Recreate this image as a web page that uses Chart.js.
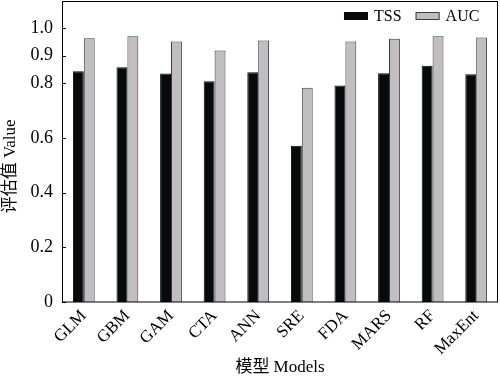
<!DOCTYPE html>
<html>
<head>
<meta charset="utf-8">
<script src="https://cdn.jsdelivr.net/npm/chart.js@4/dist/chart.umd.min.js"></script>
<style>
  html, body { margin: 0; padding: 0; background: #fff; }
  #wrap { width: 500px; height: 380px; }
</style>
</head>
<body>
<div id="wrap"><canvas id="evalChart" width="500" height="380"></canvas></div>
<script>
var models = ['GLM', 'GBM', 'GAM', 'CTA', 'ANN', 'SRE', 'FDA', 'MARS', 'RF', 'MaxEnt'];
var tssValues = [0.843, 0.858, 0.835, 0.807, 0.840, 0.571, 0.791, 0.836, 0.863, 0.832];
var aucValues = [0.964, 0.971, 0.952, 0.919, 0.956, 0.783, 0.952, 0.962, 0.971, 0.967];
var yTicks = [0, 0.2, 0.4, 0.6, 0.8, 0.9, 1.0];

var serif = '"Liberation Serif", "Times New Roman", serif';
var cjk = '"Liberation Serif", "Noto Sans CJK SC", serif';

// box round the plot, inward y ticks and the legend in the top right corner
var framePlugin = {
  id: 'frame',
  afterDraw: function (chart) {
    var ctx = chart.ctx;
    var area = chart.chartArea;
    var y = chart.scales.y;
    ctx.save();
    ctx.strokeStyle = '#000';
    ctx.lineWidth = 1;
    ctx.strokeRect(Math.round(area.left) + 0.5, Math.round(area.top) + 0.5,
      Math.round(area.right - area.left) - 1, Math.round(area.bottom - area.top) - 0.5);
    yTicks.forEach(function (v) {
      var py = Math.round(y.getPixelForValue(v)) + 0.5;
      ctx.beginPath();
      ctx.moveTo(area.left, py);
      ctx.lineTo(area.left + 4, py);
      ctx.stroke();
    });

    ctx.font = '16px ' + serif;
    ctx.textBaseline = 'middle';
    var x = area.right - 154;
    chart.data.datasets.forEach(function (ds) {
      ctx.fillStyle = ds.backgroundColor;
      ctx.fillRect(x, area.top + 11, 24, 8);
      ctx.strokeStyle = ds.borderColor;
      ctx.strokeRect(x + 0.5, area.top + 11.5, 23, 7);
      x += 30;
      ctx.fillStyle = '#000';
      ctx.fillText(ds.label, x, area.top + 16);
      x += ctx.measureText(ds.label).width + 14;
    });
    ctx.restore();
  }
};

var chart = new Chart(document.getElementById('evalChart'), {
  type: 'bar',
  data: {
    labels: models,
    datasets: [
      {
        label: 'TSS',
        data: tssValues,
        backgroundColor: '#070a0b',
        borderColor: '#070a0b',
        borderWidth: 1
      },
      {
        label: 'AUC',
        data: aucValues,
        backgroundColor: '#c1bdc1',
        borderColor: '#3c3c3c',
        borderWidth: 1
      }
    ]
  },
  options: {
    responsive: false,
    animation: false,
    layout: { padding: { top: 1, right: 2, left: 0, bottom: 0 } },
    datasets: {
      bar: { barPercentage: 1.0, categoryPercentage: 0.5 }
    },
    plugins: {
      legend: { display: false },
      tooltip: { enabled: false }
    },
    scales: {
      x: {
        grid: { display: false, drawTicks: false },
        border: { display: false },
        ticks: {
          color: '#000',
          font: { family: serif, size: 17 },
          maxRotation: 45,
          minRotation: 45,
          autoSkip: false,
          padding: 4
        },
        title: {
          display: true,
          text: '模型 Models',
          color: '#000',
          font: { family: cjk, size: 17 },
          padding: { top: 0, bottom: 2 }
        },
        afterFit: function (scale) { scale.height = 78; }
      },
      y: {
        min: 0,
        max: 1.1,
        grid: { display: false, drawTicks: false },
        border: { display: false },
        afterBuildTicks: function (scale) {
          scale.ticks = yTicks.map(function (v) { return { value: v }; });
        },
        ticks: {
          color: '#000',
          font: { family: serif, size: 18 },
          padding: 9,
          callback: function (v) { return v === 0 ? '0' : Number(v).toFixed(1); }
        },
        title: {
          display: true,
          // trailing spaces push the title a little lower, as in the source figure
          text: '评估值 Value\u00a0\u00a0\u00a0\u00a0\u00a0\u00a0\u00a0',
          color: '#000',
          font: { family: cjk, size: 17 },
          padding: { top: 0, bottom: 0 }
        },
        afterFit: function (scale) {
          scale.width = 62;
          scale.paddingTop = 0;
          scale.paddingBottom = 0;
        }
      }
    }
  },
  plugins: [framePlugin]
});
</script>
</body>
</html>
